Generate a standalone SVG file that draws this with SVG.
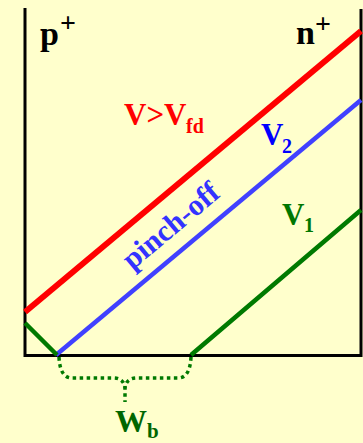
<svg xmlns="http://www.w3.org/2000/svg" width="363" height="443" viewBox="0 0 363 443">
<style>
text{font-family:"Liberation Serif","Times New Roman",serif;font-weight:bold}
.big{font-size:31px}
.sub{font-size:20px}
.ln{fill:none;stroke-linecap:butt}
</style>
<rect width="363" height="443" fill="#FFFFCC"/>
<g id="axes">
<path class="ln" d="M25,8 V355.5 H361 V9" stroke="#000" stroke-width="3"/>
</g>
<g id="lines">
<path class="ln" d="M25,312 L361,31" stroke="#FF0000" stroke-width="6"/>
<path class="ln" d="M56,355 L361,100" stroke="#4040FF" stroke-width="4.5"/>
<path class="ln" d="M25,323 L57,355 M191,355 L361,210" stroke="#007A00" stroke-width="4.5"/>
<path class="ln" d="M59,357 Q60,378 72,378 L113,378 Q125,378 125,390 L125,402 M191,357 Q190,378 178,378 L137,378 Q125,378 125,390" stroke="#007A00" stroke-width="3.5" stroke-dasharray="3.5,3.5"/>
</g>
<g id="labels">
<text x="40" y="45" font-size="34">p</text>
<text x="60" y="32" font-size="28">+</text>
<text x="296" y="44" font-size="34">n</text>
<text x="315" y="33" font-size="28">+</text>
<text class="big" x="124" y="125" fill="#FF0000">V&gt;V</text>
<text class="sub" x="186" y="133" fill="#FF0000">fd</text>
<text class="big" x="261" y="145" fill="#0000FF">V</text>
<text class="sub" x="282" y="153" fill="#0000FF">2</text>
<text class="big" x="282" y="225" fill="#007700">V</text>
<text class="sub" x="304" y="232" fill="#007700">1</text>
<text x="177" y="233" font-size="30" fill="#3333FF" text-anchor="middle" transform="rotate(-40 177 233)">pinch-off</text>
<text x="115" y="432" font-size="32" fill="#006600">W</text>
<text x="147" y="438" font-size="21" fill="#006600">b</text>
</g>
</svg>
